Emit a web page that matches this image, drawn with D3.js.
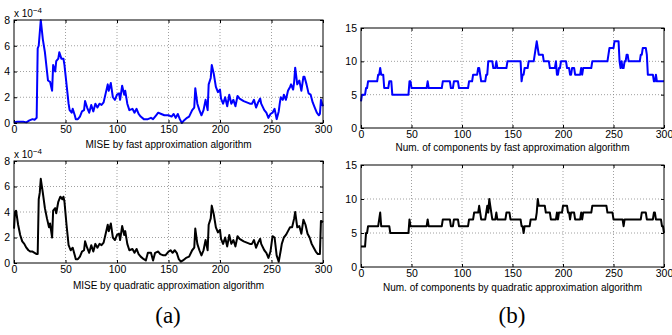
<!DOCTYPE html>
<html>
<head>
<meta charset="utf-8">
<script src="https://cdn.jsdelivr.net/npm/d3@7"></script>
<style>
  body { margin: 0; background: #fff; }
  svg { display: block; }
  text { font-family: "Liberation Sans", Arial, sans-serif; }
</style>
</head>
<body>
<svg id="chart" width="672" height="335"></svg>
<script>
// MISE (x 10^-4) per frame as [frame, value]
const miseFast = [[0,0.05],[3,0.1],[6,0.1],[9,0.1],[12,0.05],[15,0.2],[18,0.3],[20,0.25],[22,0.4],[23,5.8],[24,6.0],[26,8.0],[28,6.5],[30,5.5],[33,3.3],[35,3.2],[37,2.5],[38,4.5],[40,4.0],[41,4.8],[43,5.0],[44,5.5],[46,5.0],[48,5.0],[49,4.5],[51,3.0],[53,1.5],[54,1.0],[56,0.8],[57,1.1],[59,0.6],[60,0.3],[62,0.3],[64,0.5],[66,0.9],[68,1.0],[69,1.7],[71,1.2],[73,0.8],[75,1.4],[77,0.9],[79,1.5],[81,1.2],[83,1.5],[85,1.4],[87,1.6],[89,2.3],[91,3.0],[92,2.5],[94,3.1],[96,2.0],[98,1.8],[100,2.2],[102,2.3],[103,1.8],[105,2.9],[107,2.2],[108,2.5],[110,1.5],[112,1.0],[115,1.1],[117,0.8],[119,1.1],[121,0.7],[123,0.5],[126,0.3],[130,0.3],[133,0.4],[135,0.3],[138,0.6],[140,0.8],[143,0.7],[146,0.6],[150,0.6],[153,0.5],[155,0.7],[157,0.4],[159,0.7],[161,0.3],[163,0.0],[165,0.2],[168,0.4],[170,0.5],[173,1.0],[175,1.2],[176,2.7],[178,1.5],[180,1.0],[182,0.6],[184,1.0],[186,1.8],[188,1.0],[189,3.0],[191,3.5],[192,4.5],[194,3.8],[196,2.8],[198,2.4],[200,2.6],[201,1.9],[203,1.5],[205,2.0],[207,1.3],[209,2.2],[211,1.5],[213,1.8],[215,1.3],[217,2.1],[219,1.9],[221,1.8],[223,1.7],[226,1.6],[229,1.5],[231,1.5],[233,1.8],[235,1.2],[237,1.6],[239,1.9],[240,1.5],[243,1.0],[245,0.8],[247,0.4],[249,0.7],[251,0.8],[253,1.1],[255,0.3],[257,0.9],[258,1.5],[259,2.0],[261,1.8],[262,2.2],[264,1.8],[266,2.5],[268,2.8],[269,3.0],[271,2.6],[272,3.2],[273,4.3],[275,3.0],[277,3.3],[279,2.5],[281,3.6],[282,3.6],[284,3.0],[286,2.3],[288,2.2],[290,1.6],[292,1.2],[294,0.8],[296,0.6],[297,0.7],[298,1.8],[300,1.3]];

const miseQuad = [[0,2.7],[1,4.0],[2,4.1],[4,3.0],[6,2.2],[8,1.7],[10,1.5],[12,1.2],[14,1.0],[16,0.9],[18,0.9],[20,0.8],[22,0.7],[23,0.7],[24,5.0],[25,5.5],[26,6.6],[28,5.5],[30,4.3],[32,3.5],[34,2.8],[35,3.1],[37,2.0],[38,4.1],[40,4.3],[41,3.9],[43,4.8],[45,5.2],[47,5.0],[48,5.2],[49,4.8],[51,3.0],[53,1.4],[55,1.0],[57,1.2],[59,0.6],[60,0.3],[62,0.3],[64,0.5],[66,0.9],[68,1.0],[69,1.7],[71,1.2],[73,0.8],[75,1.4],[77,0.9],[79,1.5],[81,1.2],[83,1.5],[85,1.4],[87,1.6],[89,2.3],[91,3.0],[92,2.5],[94,3.1],[96,2.0],[98,1.8],[100,2.2],[102,2.3],[103,1.8],[105,2.9],[107,2.2],[108,2.5],[110,1.5],[112,1.0],[115,1.1],[117,0.8],[119,1.1],[121,0.7],[123,0.5],[126,0.3],[128,0.2],[130,0.8],[133,0.8],[135,0.2],[137,0.8],[140,0.9],[142,0.7],[145,0.6],[147,0.6],[150,0.9],[152,1.0],[154,0.8],[156,1.0],[158,0.8],[160,0.3],[162,0.1],[164,0.2],[167,0.4],[170,0.5],[173,1.0],[175,1.2],[176,2.7],[178,1.5],[180,1.0],[182,0.6],[184,1.0],[186,1.8],[188,1.0],[189,3.0],[191,3.5],[192,4.5],[194,3.8],[196,2.8],[198,2.4],[200,2.6],[201,1.9],[203,1.5],[205,2.0],[207,1.3],[209,2.2],[211,1.5],[213,1.8],[215,1.3],[217,2.1],[219,1.9],[221,1.8],[223,1.7],[226,1.6],[229,1.5],[231,1.5],[233,1.8],[235,1.2],[237,1.6],[239,1.9],[240,1.5],[243,1.0],[245,0.8],[247,0.4],[249,0.9],[251,2.1],[253,2.0],[255,0.6],[257,0.1],[259,1.0],[260,1.5],[262,2.0],[264,2.2],[266,2.5],[268,2.8],[270,2.8],[272,3.5],[273,4.0],[275,2.8],[277,2.9],[279,2.3],[281,3.4],[283,3.0],[285,2.3],[287,2.0],[289,1.5],[291,1.2],[293,0.9],[295,0.7],[297,0.7],[298,3.3],[300,3.2]];

// number of components per frame, [frame, count]
const compFast = [[0,4],[1,5],[4,5],[5,6],[6,6],[7,7],[16,7],[17,8],[18,8],[19,9],[20,8],[22,8],[23,6],[27,6],[28,7],[30,7],[31,5],[47,5],[48,7],[49,7],[50,6],[65,6],[66,7],[67,6],[80,6],[81,7],[88,7],[89,6],[91,6],[92,7],[96,7],[97,6],[106,6],[107,7],[110,7],[111,8],[115,8],[116,9],[117,9],[118,8],[119,7],[123,7],[124,8],[125,8],[126,10],[130,10],[131,9],[133,9],[134,10],[135,9],[144,9],[145,10],[158,10],[159,7],[160,8],[161,8],[162,9],[165,9],[166,10],[171,10],[172,11],[173,12],[174,13],[175,12],[176,11],[180,11],[181,10],[186,10],[187,9],[192,9],[193,10],[194,8],[195,8],[196,9],[197,9],[198,10],[203,10],[204,9],[206,9],[207,8],[208,8],[209,9],[211,9],[212,8],[217,8],[218,9],[219,8],[220,9],[228,9],[229,10],[244,10],[245,11],[246,12],[250,12],[251,13],[255,13],[256,10],[257,9],[258,10],[259,9],[260,9],[261,10],[262,10],[263,11],[264,11],[265,10],[276,10],[277,11],[278,11],[279,12],[282,12],[283,11],[284,8],[289,8],[290,7],[291,7],[292,8],[293,7],[300,7]];

const compQuad = [[0,3],[4,3],[5,5],[6,5],[7,6],[17,6],[18,7],[19,8],[20,6],[28,6],[29,5],[47,5],[48,7],[49,6],[65,6],[66,7],[67,6],[80,6],[81,7],[88,7],[89,6],[91,6],[92,7],[96,7],[97,6],[106,6],[107,7],[111,7],[112,8],[116,8],[117,9],[118,8],[119,7],[123,7],[124,8],[125,9],[126,8],[127,10],[128,9],[129,8],[130,7],[133,7],[134,8],[135,7],[143,7],[144,8],[147,8],[148,7],[158,7],[159,6],[160,6],[161,5],[162,6],[167,6],[168,7],[173,7],[174,8],[175,10],[176,9],[182,9],[183,8],[187,8],[188,7],[193,7],[194,8],[195,7],[196,8],[199,8],[200,9],[204,9],[205,8],[206,8],[207,7],[208,8],[211,8],[212,7],[217,7],[218,8],[219,7],[220,8],[228,8],[229,9],[243,9],[244,8],[249,8],[250,7],[259,7],[260,6],[261,7],[277,7],[278,8],[282,8],[283,7],[289,7],[290,8],[291,8],[292,7],[297,7],[298,6],[299,6],[300,5]];

const xTicks = [0, 50, 100, 150, 200, 250, 300];
const miseTicks = [0, 2, 4, 6, 8];
const compTicks = [0, 5, 10, 15];

const svg = d3.select('#chart');

const panels = [
  { data: miseFast, color: '#0000ff', x0: 14, x1: 323, y0: 20, y1: 123, ymax: 8, yticks: miseTicks, exp: true,
    title: 'MISE by fast approximation algorithm', titleY: 148 },
  { data: miseQuad, color: '#000000', x0: 14, x1: 323, y0: 161, y1: 263, ymax: 8, yticks: miseTicks, exp: true,
    title: 'MISE by quadratic approximation algorithm', titleY: 289 },
  { data: compFast, color: '#0000ff', x0: 361, x1: 664, y0: 28, y1: 128, ymax: 15, yticks: compTicks, exp: false,
    title: 'Num. of components by fast approximation algorithm', titleY: 151 },
  { data: compQuad, color: '#000000', x0: 361, x1: 664, y0: 165, y1: 267, ymax: 15, yticks: compTicks, exp: false,
    title: 'Num. of components by quadratic approximation algorithm', titleY: 291 }
];

panels.forEach(p => {
  const x = d3.scaleLinear().domain([0, 300]).range([p.x0, p.x1]);
  const y = d3.scaleLinear().domain([0, p.ymax]).range([p.y1, p.y0]);
  const g = svg.append('g');

  // dotted grid
  g.selectAll('.gx').data(xTicks.slice(1, -1)).enter().append('line')
    .attr('x1', d => x(d)).attr('x2', d => x(d))
    .attr('y1', p.y0).attr('y2', p.y1)
    .attr('stroke', '#888').attr('stroke-width', 0.8).attr('stroke-dasharray', '1,2');
  g.selectAll('.gy').data(p.yticks.slice(1, -1)).enter().append('line')
    .attr('x1', p.x0).attr('x2', p.x1)
    .attr('y1', d => y(d)).attr('y2', d => y(d))
    .attr('stroke', '#888').attr('stroke-width', 0.8).attr('stroke-dasharray', '1,2');

  // axes with inward ticks, MATLAB style
  const ax = g.append('g').attr('transform', `translate(0,${p.y1})`)
    .call(d3.axisBottom(x).tickValues(xTicks).tickSizeInner(-3).tickSizeOuter(0).tickPadding(3));
  const ay = g.append('g').attr('transform', `translate(${p.x0},0)`)
    .call(d3.axisLeft(y).tickValues(p.yticks).tickSizeInner(-3).tickSizeOuter(0).tickPadding(4));
  g.append('g').attr('transform', `translate(0,${p.y0})`)
    .call(d3.axisTop(x).tickValues(xTicks).tickSizeInner(-3).tickSizeOuter(0).tickFormat(''));
  g.append('g').attr('transform', `translate(${p.x1},0)`)
    .call(d3.axisRight(y).tickValues(p.yticks).tickSizeInner(-3).tickSizeOuter(0).tickFormat(''));
  g.selectAll('.domain').remove();
  g.selectAll('.tick line').attr('stroke', '#000');
  [ax, ay].forEach(a => a.selectAll('text').attr('font-size', 10.5).attr('fill', '#000'));

  // series
  const line = d3.line().x(d => x(d[0])).y(d => y(d[1]));
  g.append('path').datum(p.data)
    .attr('d', line)
    .attr('fill', 'none')
    .attr('stroke', p.color)
    .attr('stroke-width', 2)
    .attr('stroke-linejoin', 'round');

  // box
  g.append('rect')
    .attr('x', p.x0).attr('y', p.y0)
    .attr('width', p.x1 - p.x0).attr('height', p.y1 - p.y0)
    .attr('fill', 'none').attr('stroke', '#000').attr('stroke-width', 1);

  if (p.exp) {
    const t = g.append('text').attr('x', p.x0).attr('y', p.y0 - 3).attr('font-size', 10);
    t.append('tspan').text('x 10');
    t.append('tspan').attr('dy', -4).attr('font-size', 8).text('−4');
  }

  g.append('text')
    .attr('x', (p.x0 + p.x1) / 2).attr('y', p.titleY)
    .attr('text-anchor', 'middle').attr('font-size', 10)
    .text(p.title);
});

// sub-figure captions
svg.selectAll('.cap').data([['(a)', 168], ['(b)', 512]]).enter().append('text')
  .attr('x', d => d[1]).attr('y', 323)
  .attr('text-anchor', 'middle')
  .style('font-family', '"Liberation Serif", "Times New Roman", serif')
  .attr('font-size', 23)
  .text(d => d[0]);
</script>
</body>
</html>
